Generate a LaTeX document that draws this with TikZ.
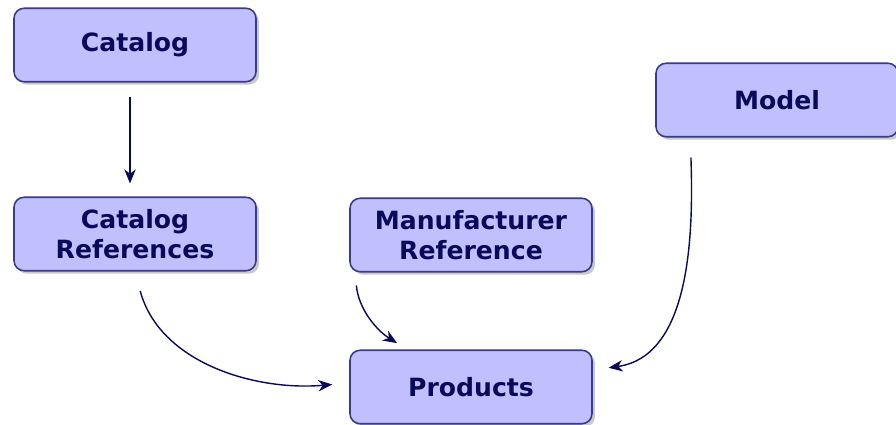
\documentclass[tikz,border=0pt]{standalone}
\usepackage{fontspec}
\setsansfont{DejaVu Sans}
\usetikzlibrary{arrows.meta,shadows}
\definecolor{boxfill}{RGB}{192,192,255}
\definecolor{boxline}{RGB}{58,58,140}
\definecolor{navy}{RGB}{10,10,90}
\begin{document}
\begin{tikzpicture}
      [%%%%%%%%%%%%%%%%%%%%%%%%%%%%%%
      x=0.02cm,y=-0.02cm,
      entity/.style={rectangle,rounded corners=0.2cm,draw=boxline,line width=0.9pt,fill=boxfill,
        minimum width=4.84cm,minimum height=1.47cm,align=center,text=navy,
        font=\sffamily\bfseries\fontsize{14.3}{17}\selectfont,
        drop shadow={shadow xshift=0.06cm,shadow yshift=-0.06cm,opacity=0.35,fill=black!60}},
      link/.style={draw=navy,line width=0.8pt,-{Stealth[length=8pt,width=6.5pt,inset=2.5pt]}},
      ]%%%%%%%%%%%%%%%%%%%%%%%%%%%%%%
      \useasboundingbox[fill=white] (0,0) rectangle (896,425);

      \node[entity] (catalog) at (135,45) {Catalog};
      \node[entity] (catref)  at (135,234) {Catalog\\References};
      \node[entity] (manref)  at (471,235) {Manufacturer\\Reference};
      \node[entity] (model)   at (777,100) {Model};
      \node[entity] (product) at (471,387) {Products};

      \draw[link,shorten <=0.28cm,shorten >=0.26cm] ([xshift=-0.1cm]catalog.south) -- ([xshift=-0.1cm]catref.north);
      \draw[link,shorten <=0.4cm,shorten >=0.34cm] (catref.south) to[out=-75,in=185] ([yshift=0.08cm]product.west);
      \draw[link,shorten <=0.26cm,shorten >=0.24cm] ([xshift=0.12cm]manref.south west) to[out=-85,in=148] ([xshift=1.16cm]product.north west);
      \draw[link,shorten <=0.4cm,shorten >=0.32cm] ([xshift=0.7cm]model.south west) to[out=-88,in=8] ([yshift=0.34cm]product.east);
    \end{tikzpicture}
\end{document}
